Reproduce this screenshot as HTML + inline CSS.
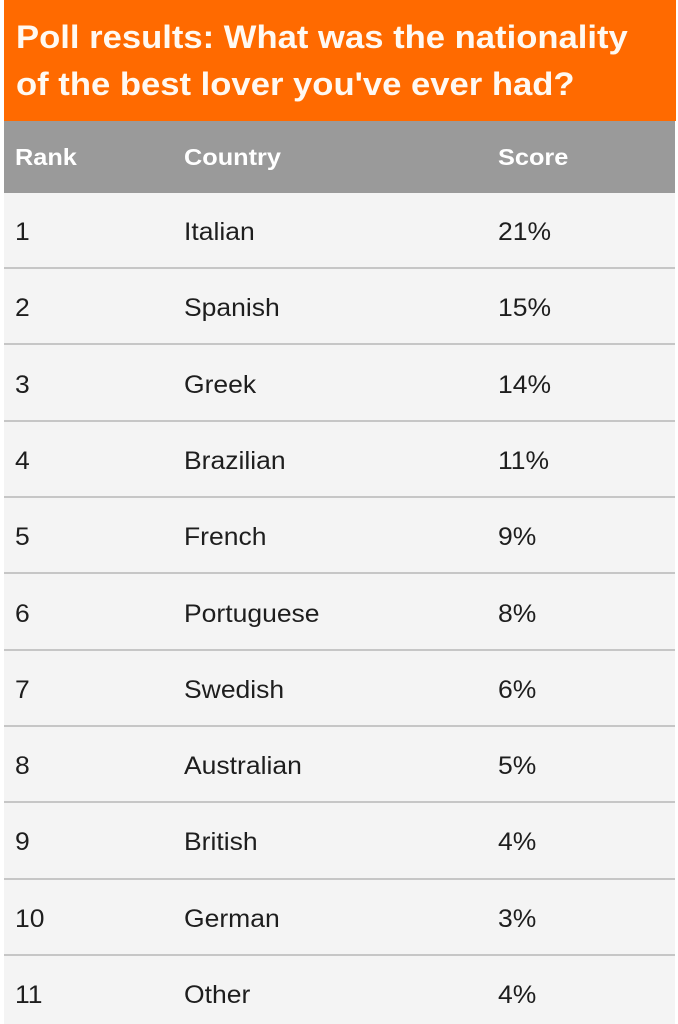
<!DOCTYPE html>
<html>
<head>
<meta charset="utf-8">
<style>
  html, body { margin:0; padding:0; }
  body { width:678px; height:1024px; position:relative; background:#ffffff; overflow:hidden;
         font-family:"Liberation Sans", Arial, sans-serif; }
  .orange { position:absolute; left:4px; top:0; width:672px; height:121px; background:#ff6a00; }
  .t { position:absolute; left:16px; font-size:32px; line-height:32px; font-weight:bold; color:#fff9f2;
       white-space:nowrap; transform:scaleX(1.082); transform-origin:0 0; }
  .gray { position:absolute; left:4px; top:121px; width:671px; height:72px; background:#9a9a9a; }
  .h { position:absolute; top:146px; font-size:23px; line-height:23px; font-weight:bold; color:#ffffff;
       white-space:nowrap; transform:scaleX(1.1); transform-origin:0 0; }
  .row { position:absolute; left:4px; width:671px; background:#f4f4f4; }
  .line { position:absolute; left:4px; width:671px; height:2px; background:#c6c6c6; }
  .c { position:absolute; font-size:25px; line-height:25px; color:#1e1e1e; white-space:nowrap;
       transform:scaleX(1.06); transform-origin:0 0; }
</style>
</head>
<body>
  <div class="orange"></div>
  <div class="t" style="top:21px;">Poll results: What was the nationality</div>
  <div class="t" style="top:68px;">of the best lover you've ever had?</div>

  <div class="gray"></div>
  <div class="h" style="left:15px;">Rank</div>
  <div class="h" style="left:184px;">Country</div>
  <div class="h" style="left:498px;">Score</div>

  <div class="row" style="top:193px;height:831px;"></div>

  <div class="line" style="top:267px;"></div>
  <div class="line" style="top:343px;"></div>
  <div class="line" style="top:420px;"></div>
  <div class="line" style="top:496px;"></div>
  <div class="line" style="top:572px;"></div>
  <div class="line" style="top:649px;"></div>
  <div class="line" style="top:725px;"></div>
  <div class="line" style="top:801px;"></div>
  <div class="line" style="top:878px;"></div>
  <div class="line" style="top:954px;"></div>

  <div class="c" style="left:15px;top:220px;">1</div>
  <div class="c" style="left:184px;top:220px;">Italian</div>
  <div class="c" style="left:498px;top:220px;">21%</div>

  <div class="c" style="left:15px;top:296px;">2</div>
  <div class="c" style="left:184px;top:296px;">Spanish</div>
  <div class="c" style="left:498px;top:296px;">15%</div>

  <div class="c" style="left:15px;top:373px;">3</div>
  <div class="c" style="left:184px;top:373px;">Greek</div>
  <div class="c" style="left:498px;top:373px;">14%</div>

  <div class="c" style="left:15px;top:449px;">4</div>
  <div class="c" style="left:184px;top:449px;">Brazilian</div>
  <div class="c" style="left:498px;top:449px;">11%</div>

  <div class="c" style="left:15px;top:525px;">5</div>
  <div class="c" style="left:184px;top:525px;">French</div>
  <div class="c" style="left:498px;top:525px;">9%</div>

  <div class="c" style="left:15px;top:602px;">6</div>
  <div class="c" style="left:184px;top:602px;">Portuguese</div>
  <div class="c" style="left:498px;top:602px;">8%</div>

  <div class="c" style="left:15px;top:678px;">7</div>
  <div class="c" style="left:184px;top:678px;">Swedish</div>
  <div class="c" style="left:498px;top:678px;">6%</div>

  <div class="c" style="left:15px;top:754px;">8</div>
  <div class="c" style="left:184px;top:754px;">Australian</div>
  <div class="c" style="left:498px;top:754px;">5%</div>

  <div class="c" style="left:15px;top:830px;">9</div>
  <div class="c" style="left:184px;top:830px;">British</div>
  <div class="c" style="left:498px;top:830px;">4%</div>

  <div class="c" style="left:15px;top:907px;">10</div>
  <div class="c" style="left:184px;top:907px;">German</div>
  <div class="c" style="left:498px;top:907px;">3%</div>

  <div class="c" style="left:15px;top:983px;">11</div>
  <div class="c" style="left:184px;top:983px;">Other</div>
  <div class="c" style="left:498px;top:983px;">4%</div>
</body>
</html>
